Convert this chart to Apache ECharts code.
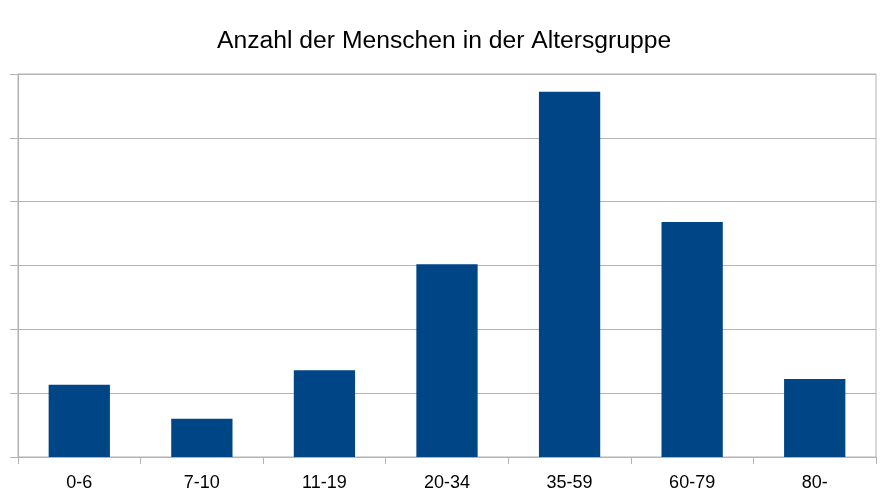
<!DOCTYPE html>
<html>
<head>
<meta charset="utf-8">
<script src="https://cdn.jsdelivr.net/npm/echarts@6/dist/echarts.min.js"></script>
<style>
html,body{margin:0;padding:0;background:#fff;}
#chart{width:894px;height:503px;}
</style>
</head>
<body>
<div id="chart"></div>
<script>
const titleText = "Anzahl der Menschen in der Altersgruppe";
const categories = ["0-6", "7-10", "11-19", "20-34", "35-59", "60-79", "80-"];
const values = [1.13, 0.6, 1.36, 3.02, 5.72, 3.68, 1.22];

const chart = echarts.init(document.getElementById('chart'), null, {renderer: 'canvas'});
chart.setOption({
  animation: false,
  backgroundColor: '#ffffff',
  title: {
    text: titleText,
    left: 212,
    top: 24,
    textStyle: {fontFamily: 'Liberation Sans', fontSize: 24.7, fontWeight: 'normal', color: '#000000'}
  },
  grid: {
    left: 18, right: 18, top: 74, bottom: 46,
    show: true, borderColor: '#b3b3b3', borderWidth: 1, backgroundColor: 'transparent'
  },
  xAxis: {
    type: 'category',
    data: categories,
    boundaryGap: true,
    axisLine: {show: true, lineStyle: {color: '#b3b3b3', width: 1}},
    axisTick: {show: true, interval: 0, length: 7, lineStyle: {color: '#b3b3b3'}},
    axisLabel: {interval: 0, margin: 17, fontFamily: 'Liberation Sans', fontSize: 18, color: '#000000'},
    splitLine: {show: false}
  },
  yAxis: {
    type: 'value',
    min: 0, max: 6, interval: 1,
    axisLine: {show: true, lineStyle: {color: '#b3b3b3', width: 1}},
    axisTick: {show: true, length: 8, lineStyle: {color: '#b3b3b3'}},
    axisLabel: {show: false},
    splitLine: {show: true, lineStyle: {color: '#b3b3b3', width: 1}}
  },
  series: [{
    type: 'bar',
    data: values,
    barWidth: '50%',
    itemStyle: {color: '#004586'}
  }]
});
</script>
</body>
</html>
